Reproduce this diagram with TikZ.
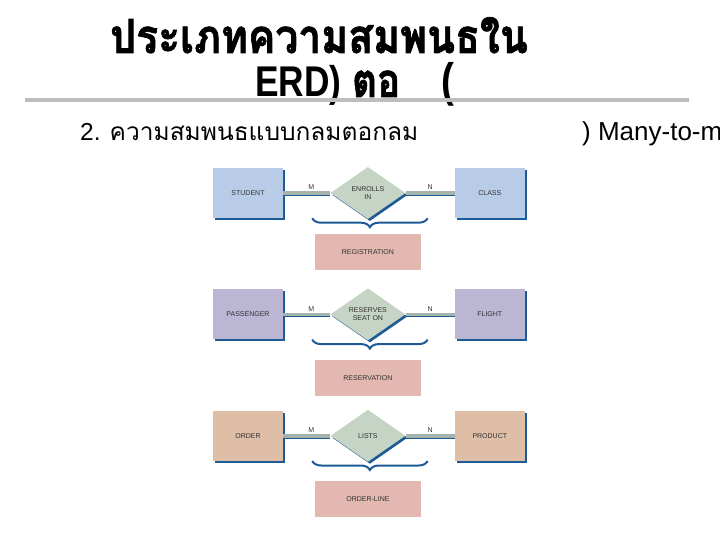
\documentclass[tikz,border=0pt]{standalone}
\usepackage{fontspec}
\setmainfont{Liberation Sans}
\newfontfamily\thaifont[Script=Thai]{Loma}
\newfontfamily\thaiheavy[Script=Thai, FakeBold=1.6]{Loma}
\usetikzlibrary{positioning,shapes.geometric,shadows,decorations.pathreplacing}

\definecolor{edgeblue}{RGB}{30,90,150}
\definecolor{studentblue}{RGB}{184,204,232}
\definecolor{flightlilac}{RGB}{186,182,212}
\definecolor{ordertan}{RGB}{222,190,166}
\definecolor{verbgreen}{RGB}{198,212,198}
\definecolor{assocpink}{RGB}{226,184,176}
\definecolor{linkgray}{RGB}{166,178,172}
\definecolor{rulegray}{RGB}{190,190,190}
\definecolor{labelgray}{RGB}{50,50,50}

\tikzstyle{headline} = [anchor=base west, inner sep=0pt, font=\bfseries\fontsize{47}{50}\selectfont]
\tikzstyle{subline} = [anchor=base west, inner sep=0pt, font=\fontsize{24.5}{28}\selectfont]
\tikzstyle{entity} = [rectangle, minimum width=70pt, minimum height=50pt, inner sep=0pt,
    font=\fontsize{7}{8}\selectfont, text=labelgray,
    drop shadow={shadow xshift=2pt, shadow yshift=-2pt, fill=edgeblue, opacity=1}]
\tikzstyle{verb} = [diamond, aspect=1.44, minimum width=75pt, minimum height=52pt, inner sep=0pt,
    fill=verbgreen, align=center, font=\fontsize{7}{8}\selectfont, text=labelgray,
    drop shadow={shadow xshift=2pt, shadow yshift=-2pt, fill=edgeblue, opacity=1}]
\tikzstyle{assoc} = [rectangle, minimum width=106pt, minimum height=36pt, inner sep=0pt,
    fill=assocpink, font=\fontsize{7}{8}\selectfont, text=labelgray]
\tikzstyle{link} = [line width=3.5pt, linkgray]
\tikzstyle{linkedge} = [line width=1.4pt, edgeblue]
\tikzstyle{card} = [above, inner sep=1.5pt, font=\fontsize{7}{8}\selectfont, text=labelgray]
\tikzstyle{bracket} = [decorate, decoration={brace, mirror, amplitude=9pt}, line width=2pt, edgeblue]

\begin{document}
\begin{tikzpicture}[x=1pt, y=1pt]
\useasboundingbox (0,0) rectangle (720,-540);

% heading
\node[headline, text depth=0pt] (title) at (110,-53) {\scalebox{0.87}[1]{\thaiheavy ประเภทความสมพนธใน}};
\node[headline, text height=31pt] (title2) at (255,-97)
    {\scalebox{0.82}[1]{{\fontsize{43}{46}\selectfont ERD)} {\thaiheavy ตอ}\hspace{50pt}(}};
\draw[line width=4pt, rulegray] (25,-100) coordinate (rulestart) -- (689,-100) coordinate (ruleend);

\begin{scope}
\clip (0,0) rectangle (720,-540);
\node[subline] (sub) at (80,-141) {2. {\thaifont ความสมพนธแบบกลมตอกลม}};
\node[subline, font=\fontsize{26}{28}\selectfont] (subright) at (582,-141) {) Many-to-many};
\end{scope}

% row 1
\node[entity, fill=studentblue] (student) at (248,-193) {STUDENT};
\node[verb, right=47pt of student] (enrolls) {ENROLLS\\IN};
\node[entity, fill=studentblue, right=49pt of enrolls] (class) {CLASS};
\node[assoc, below=15pt of enrolls] (registration) {REGISTRATION};

% row 2
\node[entity, fill=flightlilac, below=71pt of student] (passenger) {PASSENGER};
\node[verb, right=47pt of passenger] (reserves) {RESERVES\\SEAT ON};
\node[entity, fill=flightlilac, right=49pt of reserves] (flight) {FLIGHT};
\node[assoc, below=19pt of reserves] (reservation) {RESERVATION};

% row 3
\node[entity, fill=ordertan, below=71pt of passenger] (order) {ORDER};
\node[verb, right=47pt of order] (lists) {LISTS};
\node[entity, fill=ordertan, right=49pt of lists] (product) {PRODUCT};
\node[assoc, below=19pt of lists] (orderline) {ORDER-LINE};

% connectors
\draw[linkedge] ([yshift=-2pt]student.east) -- ([yshift=-2pt]enrolls.west);
\draw[linkedge] ([yshift=-2pt]enrolls.east) -- ([yshift=-2pt]class.west);
\draw[link] (student) -- node[card, pos=0.6] {M} (enrolls);
\draw[link] (enrolls) -- node[card, pos=0.5] {N} (class);
\draw[bracket] ([xshift=-18pt]enrolls.west |- student.south) -- ([xshift=22pt]enrolls.east |- student.south);

\draw[linkedge] ([yshift=-2pt]passenger.east) -- ([yshift=-2pt]reserves.west);
\draw[linkedge] ([yshift=-2pt]reserves.east) -- ([yshift=-2pt]flight.west);
\draw[link] (passenger) -- node[card, pos=0.6] {M} (reserves);
\draw[link] (reserves) -- node[card, pos=0.5] {N} (flight);
\draw[bracket] ([xshift=-18pt]reserves.west |- passenger.south) -- ([xshift=22pt]reserves.east |- passenger.south);

\draw[linkedge] ([yshift=-2pt]order.east) -- ([yshift=-2pt]lists.west);
\draw[linkedge] ([yshift=-2pt]lists.east) -- ([yshift=-2pt]product.west);
\draw[link] (order) -- node[card, pos=0.6] {M} (lists);
\draw[link] (lists) -- node[card, pos=0.5] {N} (product);
\draw[bracket] ([xshift=-18pt]lists.west |- order.south) -- ([xshift=22pt]lists.east |- order.south);
\end{tikzpicture}
\end{document}
